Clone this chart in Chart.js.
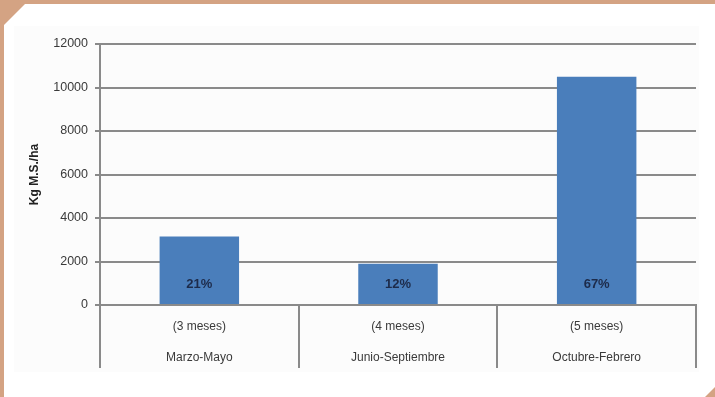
<!DOCTYPE html>
<html>
<head>
<meta charset="utf-8">
<script src="https://cdn.jsdelivr.net/npm/chart.js@4.4.1/dist/chart.umd.min.js"></script>
<style>
  html, body { margin: 0; padding: 0; }
  body { width: 715px; height: 397px; background: #d4a383; position: relative; overflow: hidden; }
  #panel { position: absolute; left: 0; top: 0; width: 715px; height: 397px; background: #ffffff;
    clip-path: polygon(4px 25px, 25px 4px, 715px 4px, 715px 387px, 705px 397px, 4px 397px); }
  #inner { position: absolute; left: 14px; top: 26px; width: 685px; height: 346px; background: #fcfcfc; }
  #wrap { position: absolute; left: 0; top: 0; width: 715px; height: 397px; }
</style>
</head>
<body>
<div id="panel"><div id="inner"></div></div>
<div id="wrap"><canvas id="c" width="715" height="397"></canvas></div>
<script>
const periods = ['(3 meses)', '(4 meses)', '(5 meses)'];
const seasons = ['Marzo-Mayo', 'Junio-Septiembre', 'Octubre-Febrero'];
const values = [3150, 1900, 10500];
const shares = ['21%', '12%', '67%'];
const yTitle = 'Kg M.S./ha';

const labels = periods.map((p, i) => [p, seasons[i]]);

const shareLabels = {
  id: 'shareLabels',
  afterDatasetsDraw(chart) {
    const ctx = chart.ctx;
    const meta = chart.getDatasetMeta(0);
    const base = chart.scales.y.getPixelForValue(0);
    ctx.save();
    ctx.font = 'bold 13px "Liberation Sans", Arial, sans-serif';
    ctx.fillStyle = '#1d2b4a';
    ctx.textAlign = 'center';
    ctx.textBaseline = 'middle';
    meta.data.forEach((bar, i) => {
      ctx.fillText(shares[i], bar.x, base - 21);
    });
    ctx.restore();
  }
};

new Chart(document.getElementById('c'), {
  type: 'bar',
  data: {
    labels: labels,
    datasets: [{
      data: values,
      backgroundColor: '#4a7ebb',
      borderWidth: 0,
      barPercentage: 0.4,
      categoryPercentage: 1.0
    }]
  },
  options: {
    responsive: false,
    animation: false,
    devicePixelRatio: 1,
    layout: { padding: { left: 23, right: 19, top: 44, bottom: 23 } },
    plugins: { legend: { display: false }, tooltip: { enabled: false } },
    scales: {
      x: {
        offset: true,
        grid: { offset: true, drawOnChartArea: false, drawTicks: true, tickLength: 63, color: '#8a8a8a', lineWidth: 2 },
        border: { display: true, color: '#8a8a8a', width: 2 },
        ticks: { color: '#3a3a3a', padding: -56.5, font: { family: '"Liberation Sans", Arial, sans-serif', size: 12, lineHeight: 2.58 }, maxRotation: 0, autoSkip: false },
        afterFit(scale) { scale.height = 69; }
      },
      y: {
        min: 0, max: 12000,
        ticks: { stepSize: 2000, color: '#3a3a3a', padding: 7, callback: (v) => String(v), font: { family: '"Liberation Sans", Arial, sans-serif', size: 12.5 } },
        grid: { color: '#8a8a8a', lineWidth: 2, tickLength: 5 },
        border: { display: true, color: '#8a8a8a', width: 2 },
        title: { display: true, text: yTitle, color: '#222', padding: { top: 4, bottom: 4 }, font: { family: '"Liberation Sans", Arial, sans-serif', size: 12, weight: 'bold' } },
        afterFit(scale) { scale.width = 77; }
      }
    }
  },
  plugins: [shareLabels]
});
</script>
</body>
</html>
